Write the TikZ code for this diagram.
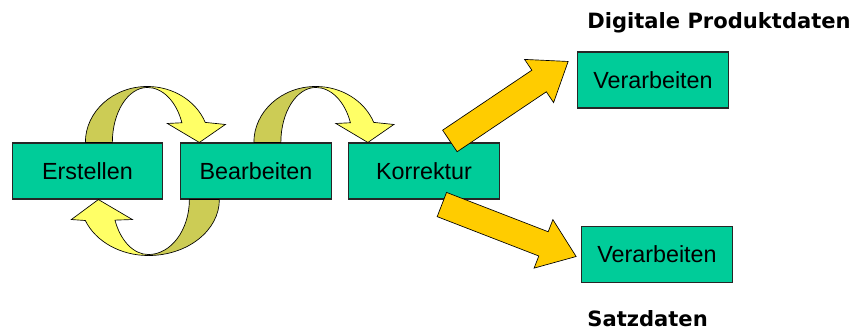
\documentclass[tikz,border=0pt]{standalone}
\usepackage{fontspec}
\setmainfont{Liberation Sans}
\newfontfamily\headfont{DejaVu Sans}
\usepackage{tikz}
\usetikzlibrary{calc}

\definecolor{boxgreen}{HTML}{00CC99}
\definecolor{loopyellow}{HTML}{FFFF66}
\definecolor{loopolive}{HTML}{CCCC55}
\definecolor{fatyellow}{HTML}{FFCC00}

\tikzset{
  box/.style={draw=black!85, line width=0.8pt, fill=boxgreen,
    minimum width=113pt, minimum height=42pt, inner sep=0pt,
    font=\fontsize{17.5}{20}\selectfont},
  headline/.style={inner sep=0pt, font=\headfont\bfseries\fontsize{15.8}{18}\selectfont},
  loopback/.style={draw=black, line width=0.5pt, fill=loopolive},
  loopfront/.style={draw=black, line width=0.5pt, fill=loopyellow},
  bigarrow/.style={draw=black, line width=0.5pt, fill=fatyellow, line join=miter},
}

% fat straight arrow from tail (#1) to tip (#2)
\newcommand{\fatarrow}[2]{%
  \coordinate (fa-h) at ($(#2)!26.25pt!(#1)$);
  \filldraw[bigarrow]
    ($(#1)!9.75pt!90:(#2)$) -- ($(fa-h)!9.75pt!90:(#2)$)
    -- ($(fa-h)!19.5pt!90:(#2)$) -- (#2)
    -- ($(fa-h)!19.5pt!-90:(#2)$) -- ($(fa-h)!9.75pt!-90:(#2)$)
    -- ($(#1)!9.75pt!-90:(#2)$) -- cycle;
}

\begin{document}
\begin{tikzpicture}[x=0.75pt, y=0.75pt]
    \useasboundingbox (0,0) rectangle (857,333);
    %% Boxes
    \node[box] (erstellen) at (87.5,162) {Erstellen};
    \node[box] (bearbeiten) at (256,162) {Bearbeiten};
    \node[box] (korrektur) at (424,162) {Korrektur};
    \node[box] (verarbOben) at (653,253) {Verarbeiten};
    \node[box] (verarbUnten) at (657,78.5) {Verarbeiten};
    \node[headline, anchor=base west] (produkt)
      at ($(verarbOben.north west)+(10,23)$) {Digitale Produktdaten};
    \node[headline, anchor=base west] (satz)
      at ($(verarbUnten.south west)+(6,-43)$) {Satzdaten};

    %% Curved loops
    \coordinate (bogen1) at ($(erstellen.north east)+(-16,0)$);
    \coordinate (bogen2) at ($(bearbeiten.north east)+(-16,0)$);
    \coordinate (bogen3) at ($(erstellen.south east)+(-15,0)$);
    \foreach \b in {bogen1,bogen2}{
      \begin{scope}[shift={(\b)}]
        \filldraw[loopback] (-62,0) arc[start angle=180, end angle=90, x radius=62, y radius=56]
          -- (0,55) arc[start angle=90, end angle=180, x radius=35, y radius=55] -- cycle;
        \filldraw[loopfront] (0,56) arc[start angle=90, end angle=21, x radius=62, y radius=56]
          -- (78,18) -- (52,0) -- (20,19) -- (21:37 and 55)
          arc[start angle=21, end angle=90, x radius=37, y radius=55] -- cycle;
      \end{scope}
    }
    \begin{scope}[shift={(bogen3)}]
      \filldraw[loopback] (71,0) arc[start angle=0, end angle=-90, x radius=71, y radius=56]
        -- (0,-55) arc[start angle=-90, end angle=0, x radius=41, y radius=55] -- cycle;
      \filldraw[loopfront] (0,-56) arc[start angle=-90, end angle=-158, x radius=68, y radius=56]
        -- (-77,-20) -- (-50,0) -- (-16,-20) -- (-158:36 and 55)
        arc[start angle=-158, end angle=-90, x radius=36, y radius=55] -- cycle;
    \end{scope}

    %% Straight arrows
    \coordinate (schwanz1) at ($(korrektur.north east)+(-50,1.5)$);
    \coordinate (spitze1) at ($(verarbOben.north west)+(-9,-10)$);
    \coordinate (schwanz2) at ($(korrektur.south east)+(-58,-5)$);
    \coordinate (spitze2) at ($(verarbUnten.west)+(-5,-2)$);
    \fatarrow{schwanz1}{spitze1}
    \fatarrow{schwanz2}{spitze2}
\end{tikzpicture}
\end{document}
